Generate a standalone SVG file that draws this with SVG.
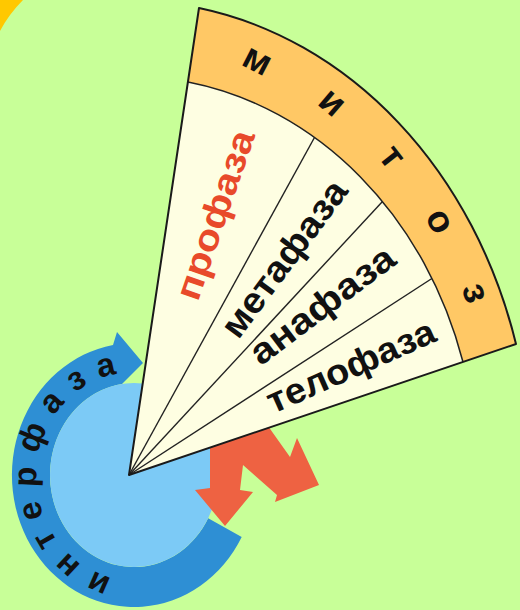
<svg xmlns="http://www.w3.org/2000/svg" width="520" height="610" viewBox="0 0 520 610">
  <defs>
    <style>
      .t { font-family: "Liberation Sans", Arial, sans-serif; font-weight: bold; }
      .phase { font-size: 36px; fill: #111; }
      .pro { fill: #E84A2A; }
      .band { font-size: 37px; fill: #111; }
      .inter { font-size: 33px; fill: #111; }
      .div { stroke: #222; stroke-width: 1.4; fill: none; }
    </style>
    <path id="bandPath" d="M192.9,53.5 A368 428 0 0 1 491.4,400.7" fill="none"/>
    <path id="interPath" d="M117,578.4 A98 104 0 0 1 142.5,372.4" fill="none"/>
  </defs>

  <rect width="520" height="610" fill="#C8FF98"/>
  <path d="M0,0 H23 Q9,14 0,31 Z" fill="#FFC800"/>

  <g id="interphase">
    <path d="M241.7,536.9 A122 132 0 1 1 113,345 L117,332 L143,363 L122,384 A84 92 0 1 0 208.2,518.2 Z" fill="#2E8FD4"/>
    <ellipse cx="134" cy="475" rx="84" ry="92" fill="#7CCAF6"/>
    <text class="t inter"><textPath href="#interPath" startOffset="5" letter-spacing="12.5">интерфаза</textPath></text>
  </g>

  <g id="connectors">
    <path d="M210,446 L268,426 L290,457 L297,438 L319,485 L275,502 L277,495 L243,465 L240,490 L253,492 L225,526 L195,490 L210,488 Z" fill="#EE6242"/>
  </g>

  <g id="mitosis">
    <path d="M129,475 L188,82 A348 399 0 0 1 463,362 Z" fill="#FEFEE2"/>
    <line class="div" x1="129" y1="475" x2="323" y2="122"/>
    <line class="div" x1="129" y1="475" x2="395" y2="188"/>
    <line class="div" x1="129" y1="475" x2="445" y2="270"/>
    <path d="M199,8 A403 474 0 0 1 516,344 L463,362 A348 399 0 0 0 188,82 Z" fill="#FFC865"/>
    <path d="M188,82 A348 399 0 0 1 463,362" stroke="#222" stroke-width="1.5" fill="none"/>
    <path d="M129,475 L199,8 A403 474 0 0 1 516,344 Z" stroke="#1a1a1a" stroke-width="2" fill="none" stroke-linejoin="round"/>
    <text class="t band"><textPath href="#bandPath" startOffset="48" letter-spacing="58">митоз</textPath></text>
  </g>

  <g id="prophase">
    <text class="t phase pro" transform="translate(218,216) rotate(-71)" x="0" y="9" text-anchor="middle" textLength="177" lengthAdjust="spacingAndGlyphs">профаза</text>
  </g>
  <g id="metaphase">
    <text class="t phase" transform="translate(286.5,260.5) rotate(-53.3)" x="0" y="9" text-anchor="middle" textLength="186" lengthAdjust="spacingAndGlyphs">метафаза</text>
  </g>
  <g id="anaphase">
    <text class="t phase" transform="translate(324,307.5) rotate(-37)" x="0" y="9" text-anchor="middle" textLength="172" lengthAdjust="spacingAndGlyphs">анафаза</text>
  </g>
  <g id="telophase">
    <text class="t phase" transform="translate(352,369) rotate(-24)" x="0" y="9" text-anchor="middle" textLength="181" lengthAdjust="spacingAndGlyphs">телофаза</text>
  </g>
</svg>
